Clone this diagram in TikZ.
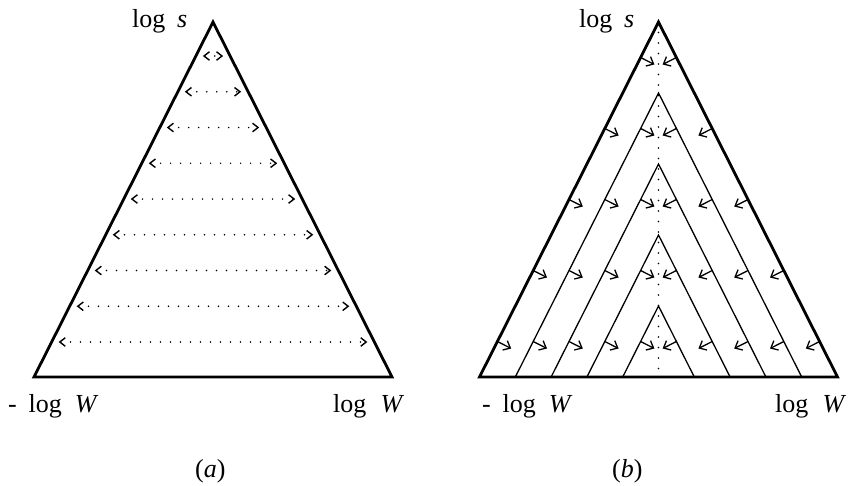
\documentclass[tikz,border=0pt]{standalone}
\usepackage{fontspec}
\setmainfont{Liberation Serif}
\usetikzlibrary{arrows.meta}
\begin{document}
\begin{tikzpicture}[x=1pt,y=-1pt,
  frame/.style={line width=2.8pt, line join=miter},
  band/.style={line width=1.3pt},
  axisdots/.style={line width=1.7pt, line cap=round, dash pattern=on 0pt off 10.5pt},
  spread/.style={line width=1.7pt, line cap=round, dash pattern=on 0pt off 10pt,
    {Straight Barb[length=5.5pt,width=8.5pt,line width=1.4pt]}-{Straight Barb[length=5.5pt,width=8.5pt,line width=1.4pt]}},
  drift/.style={line width=1.3pt, -{Straight Barb[length=6pt,width=10.5pt,line width=1.3pt]}},
  lbl/.style={font=\fontsize{26}{30}\selectfont, inner sep=0pt, anchor=base west}]
\useasboundingbox (0,0) rectangle (850,485);

% ---------------- panel (a) ----------------
\coordinate (aTop) at (213,22);
\coordinate (aL) at (34,377);
\coordinate (aR) at (392,377);
\draw[frame] (aL) -- (aTop) -- (aR) -- cycle;
\foreach \i in {0,...,8}{
  \pgfmathsetmacro{\yy}{56+35.75*\i}
  \pgfmathsetmacro{\hh}{(\yy-22)*0.504225-7}
  \coordinate (sa\i) at (213-\hh,\yy);
  \coordinate (sb\i) at (213+\hh,\yy);
  \draw[spread] (sa\i) -- (sb\i);
}
\node[lbl] (aS) at (132,27) {log\hspace{0.45em}\textit{s}};
\node[lbl] (aWl) at (8,412) {-\hspace{0.45em}log\hspace{0.5em}\textit{W}};
\node[lbl] (aWr) at (333,412) {log\hspace{0.55em}\textit{W}};
\node[lbl] (aCap) at (195,477) {(\textit{a})};

% ---------------- panel (b) ----------------
\coordinate (bTop) at (658.5,22);
\coordinate (bL) at (479.5,377);
\coordinate (bR) at (837.5,377);
\coordinate (bMid) at (658.5,377);
\draw[axisdots] (bTop) -- (bMid);
\foreach \k in {1,...,4}{
  \coordinate (pl\k) at (479.5+35.8*\k,377);
  \coordinate (pt\k) at (658.5,22+71*\k);
  \coordinate (pr\k) at (837.5-35.8*\k,377);
  \draw[band] (pl\k) -- (pt\k) -- (pr\k);
}
\draw[frame] (bL) -- (bTop) -- (bR) -- cycle;
\foreach \r in {0,...,4}{
  \foreach \k in {0,...,\r}{
    \pgfmathsetmacro{\yy}{57.5+71*\r}
    \pgfmathsetmacro{\dx}{(\yy-22-71*\k)*0.504225}
    \coordinate (ls) at (658.5-\dx,\yy);
    \coordinate (le) at (658.5-\dx+13.8,\yy+7);
    \coordinate (rs) at (658.5+\dx,\yy);
    \coordinate (re) at (658.5+\dx-13.8,\yy+7);
    \draw[drift] (ls) -- (le);
    \draw[drift] (rs) -- (re);
  }
}
\node[lbl] (bS) at (579,27) {log\hspace{0.45em}\textit{s}};
\node[lbl] (bWl) at (482,412) {-\hspace{0.45em}log\hspace{0.5em}\textit{W}};
\node[lbl] (bWr) at (775,412) {log\hspace{0.55em}\textit{W}};
\node[lbl] (bCap) at (612,477) {(\textit{b})};
\end{tikzpicture}
\end{document}
